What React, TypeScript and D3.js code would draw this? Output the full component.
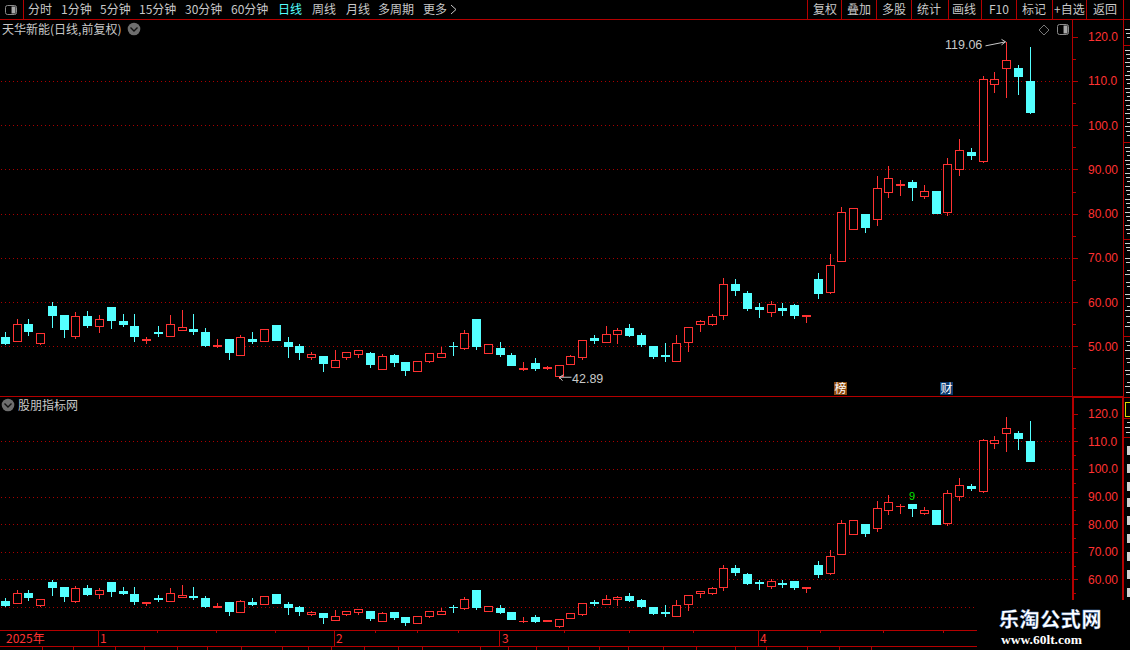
import React, { useEffect } from "react";
import * as d3 from "d3";

const opens = [52.12,51.29,55.08,50.83,59.17,57.12,52.35,56.89,54.62,58.94,55.76,54.62,51.44,53.26,52.35,53.71,53.94,53.26,50.08,51.67,48.03,51.67,51.21,54.85,50.98,50.08,47.58,47.80,45.30,47.58,48.26,48.48,44.85,48.03,46.44,44.39,46.67,47.58,50.15,49.62,56.21,48.48,49.62,48.03,44.85,46.21,45.08,43.26,45.98,47.58,51.97,50.98,52.80,54.16,52.57,50.08,48.03,46.67,50.98,55.06,55.06,57.11,64.13,62.09,58.92,57.79,58.69,59.37,56.95,65.27,62.32,69.35,76.61,79.92,78.71,84.97,86.55,87.15,84.06,85.12,80.29,90.09,93.93,91.90,109.32,112.95,113.03,110.08];
const closes = [50.76,55.08,53.48,53.03,57.12,53.94,56.89,54.85,56.21,55.98,55.08,52.35,51.67,53.03,55.08,54.39,53.48,50.30,50.30,48.71,52.12,51.21,53.94,51.44,50.08,48.71,48.26,46.21,46.89,48.71,49.17,45.98,47.80,46.44,44.62,46.67,48.48,48.48,50.00,53.03,50.08,50.53,48.26,45.76,45.08,45.08,45.30,45.76,47.80,51.44,51.44,52.80,53.70,52.57,50.53,47.81,47.88,50.76,54.38,55.74,56.88,64.13,62.77,58.69,58.54,59.60,58.31,57.11,57.11,62.09,68.44,80.46,81.37,76.98,85.72,87.98,86.70,86.02,85.04,80.14,91.15,94.31,93.26,110.45,110.45,114.77,111.21,103.03];
const highs = [53.48,56.44,56.44,53.03,60.30,57.12,58.03,58.26,57.35,59.17,57.58,57.58,52.35,54.85,57.35,58.48,57.58,54.39,51.89,51.82,52.80,53.48,54.17,55.08,52.35,50.76,48.94,47.80,49.39,48.71,49.17,48.94,48.48,48.48,46.44,46.89,48.48,50.00,51.21,53.94,56.21,50.76,51.21,48.71,46.67,47.58,45.76,45.76,48.26,51.67,52.80,54.84,54.38,55.29,53.25,50.30,50.98,52.80,54.38,56.20,57.56,65.72,65.49,62.77,60.05,60.51,60.05,59.83,57.33,66.86,71.16,81.82,81.37,80.14,88.73,90.99,87.83,87.83,86.70,85.12,92.80,97.10,95.06,111.36,112.27,119.06,113.94,117.80];
const lows = [50.53,51.29,52.58,50.53,54.39,52.12,51.89,54.39,53.26,54.17,54.62,51.21,50.76,52.35,52.35,53.71,52.80,50.08,49.85,47.12,48.03,50.76,51.21,51.44,47.58,47.12,47.12,44.39,45.30,47.12,47.58,45.30,44.85,45.53,43.48,44.39,46.44,47.58,48.03,49.39,49.39,48.48,47.80,45.76,44.62,44.62,44.85,42.89,45.98,47.12,50.76,50.98,50.76,52.34,50.08,47.35,46.67,46.67,48.94,53.48,54.84,56.20,61.64,58.24,56.65,56.88,57.11,56.42,55.52,60.96,62.09,69.35,76.61,75.85,77.43,83.76,84.21,83.08,83.53,80.14,79.69,88.73,92.35,91.65,107.58,106.44,107.12,102.80];

const indices = opens.map((_, i) => i);
const topMajor = [50, 60, 70, 80, 90, 100, 110, 120];
const topMinor = [45, 55, 65, 75, 85, 95, 105, 115];
const topGrid = [50, 60, 70, 80, 90, 100, 110];
const botMajor = [60, 70, 80, 90, 100, 110, 120];
const botMinor = [55, 65, 75, 85, 95, 105, 115];
const botGrid = [50, 60, 70, 80, 90, 100, 110];

const toolbarLeft: [string, number, boolean][] = [["分时",28,false],["1分钟",61,false],["5分钟",100,false],["15分钟",139,false],["30分钟",185,false],["60分钟",231,false],["日线",278,true],["周线",312,false],["月线",346,false],["多周期",378,false],["更多",423,false]];
const toolbarRight: [string, number][] = [["复权",813],["叠加",847],["多股",882],["统计",917],["画线",952],["F10",989],["标记",1022],["+自选",1054],["返回",1093]];
const toolbarSeps = [807, 841, 876, 911, 948, 981, 1016, 1052, 1086, 1123];
const monthLabels: [string, number][] = [["2025年",6],["1",100],["2",336],["3",502],["4",760]];
const monthLines = [98, 334, 499, 758];
const dateMinorTicks = [157, 216, 275, 375, 417, 458, 564, 629, 693, 820, 883, 943];
const tabSeps = [42, 73, 115, 144, 177, 207, 241, 282, 308, 331, 364, 398, 422, 480, 508, 536, 568, 599, 628, 663, 696, 735, 766, 807, 839, 871];
const sideLines = [45, 142, 239, 336, 397, 418, 437];
const sideDashes = [29,33,37,50,54,58,62,66,71,75,79,83,88,92,96,100,105,109,113,118,122,126,131,135,147,151,155,160,164,168,173,177,181,186,190,194,199,203,207,212,216,220,225,229,233,243,247,250,258,262,270,274,282,286,294,298,306,310,316,322,326,341,345,350,358,362,370,374,382,386,392,422,427,432];
const sideBlocks = [446,464,482,498,516,534,552,570,588];

const RED = "#ff3232";
const CYAN = "#54ffff";
const LINE = "#b40000";
const GRID = "#aa0000";
const TEXT = "#c8c8c8";
const CJK = "'Noto Sans CJK SC', 'Noto Sans', sans-serif";
const LAT = "'Liberation Sans', Arial, sans-serif";

const xS = d3.scaleLinear().domain([0, 87]).range([5.3, 1030.3]);
const yTop = d3.scaleLinear().domain([50, 120]).range([346.3, 36.7]);
const yBot = d3.scaleLinear().domain([60, 120]).range([579.4, 413.7]);
const fmt = (v: number) => v.toPrecision(4);
const px = (v: number) => Math.round(v) + 0.5;

function Candles({ y, clip }: { y: d3.ScaleLinear<number, number>; clip: string }) {
  return (
    <g clipPath={`url(#${clip})`} shapeRendering="crispEdges">
      {indices.map((i) => {
        const up = closes[i] >= opens[i];
        const c = Math.floor(xS(i)) + 0.5;
        const color = up ? RED : CYAN;
        const t = px(y(Math.max(opens[i], closes[i])));
        const b = px(y(Math.min(opens[i], closes[i])));
        const hi = px(y(highs[i]));
        const lo = px(y(lows[i]));
        const h = b - t;
        return (
          <g key={i}>
            {hi < t && <line x1={c} x2={c} y1={hi} y2={t} stroke={color} />}
            {lo > b && <line x1={c} x2={c} y1={b} y2={lo} stroke={color} />}
            {h === 0 ? (
              <line x1={c - 4.5} x2={c + 4.5} y1={t} y2={t} stroke={color} />
            ) : up ? (
              <rect x={c - 4} y={t} width={8} height={h} fill="#000" stroke={color} />
            ) : (
              <rect x={c - 4.5} y={t - 0.5} width={9} height={h + 1} fill={color} />
            )}
          </g>
        );
      })}
    </g>
  );
}

function Axis({ y, major, minor }: { y: d3.ScaleLinear<number, number>; major: number[]; minor: number[] }) {
  return (
    <g>
      <g shapeRendering="crispEdges">
        {major.map((v) => <line key={v} x1={1073} x2={1078} y1={px(y(v))} y2={px(y(v))} stroke={LINE} />)}
        {minor.map((v) => <line key={v} x1={1073} x2={1076} y1={px(y(v))} y2={px(y(v))} stroke={LINE} />)}
      </g>
      {major.map((v) => (
        <text key={v} x={1088} y={y(v) + 4.5} fontFamily={LAT} fontSize={12} fill={RED}>{fmt(v)}</text>
      ))}
    </g>
  );
}

function Grid({ y, ticks, x2 }: { y: d3.ScaleLinear<number, number>; ticks: number[]; x2: number }) {
  return (
    <g shapeRendering="crispEdges">
      {ticks.map((v) => (
        <line key={v} x1={1} x2={x2} y1={px(y(v))} y2={px(y(v))} stroke={GRID} strokeDasharray="1 3" />
      ))}
    </g>
  );
}

function Chevron({ cx, cy }: { cx: number; cy: number }) {
  return (
    <g>
      <circle cx={cx} cy={cy} r={6.3} fill="#6e6e6e" />
      <path d={`M${cx - 3.5},${cy - 1.5} L${cx},${cy + 2} L${cx + 3.5},${cy - 1.5}`} fill="none" stroke="#111" strokeWidth={1.4} />
    </g>
  );
}

function PanelIcon({ x, y, w, h }: { x: number; y: number; w: number; h: number }) {
  return (
    <g>
      <rect x={x} y={y} width={w} height={h} rx={2} fill="#000" stroke="#8a8a8a" />
      <rect x={x + w * 0.55} y={y + 1} width={w * 0.45 - 1} height={h - 2} fill="#a8a8a8" />
    </g>
  );
}

export default function App() {
  useEffect(() => {
    document.body.style.margin = "0";
    document.body.style.background = "#000";
  }, []);

  const hiX = Math.floor(xS(85)) + 0.5;
  const hiY = yTop(119.06);
  const loX = Math.floor(xS(47)) + 0.5;
  const loY = yTop(42.89);

  return (
    <svg width={1130} height={650} viewBox="0 0 1130 650" style={{ position: "absolute", left: 0, top: 0, display: "block", background: "#000" }}>
      <defs>
        <clipPath id="clipTop"><rect x={0} y={20} width={1072} height={376} /></clipPath>
        <clipPath id="clipBot"><rect x={0} y={398} width={1072} height={232} /></clipPath>
      </defs>
      <rect x={0} y={0} width={1130} height={650} fill="#000" />

      {/* toolbar */}
      <PanelIcon x={5.5} y={5.5} w={11} h={9} />
      {toolbarLeft.map(([s, x, on]) => (
        <text key={s} x={x} y={14} fontFamily={CJK} fontSize={12} fill={on ? CYAN : TEXT}>{s}</text>
      ))}
      <path d="M451,5 L456,9.5 L451,14" fill="none" stroke={TEXT} strokeWidth={1} />
      {toolbarRight.map(([s, x]) => (
        <text key={s} x={x} y={14} fontFamily={CJK} fontSize={12} fill={TEXT}>{s}</text>
      ))}
      <g shapeRendering="crispEdges">
        <line x1={23.5} x2={23.5} y1={0} y2={19} stroke={LINE} />
        {toolbarSeps.map((x) => <line key={x} x1={x + 0.5} x2={x + 0.5} y1={0} y2={19} stroke={LINE} />)}
        <line x1={0} x2={1130} y1={19.5} y2={19.5} stroke={LINE} />
      </g>

      {/* top panel */}
      <text x={2} y={33.5} fontFamily={CJK} fontSize={12} fill={TEXT}>天华新能(日线,前复权)</text>
      <Chevron cx={134} cy={29} />
      <path d="M1044,25 L1049,30 L1044,35 L1039,30 Z" fill="none" stroke="#777" />
      <PanelIcon x={1057.5} y={24.5} w={11} h={10} />
      <Grid y={yTop} ticks={topGrid} x2={1072} />
      <Candles y={yTop} clip="clipTop" />
      <text x={945} y={49} fontFamily={LAT} fontSize={12.5} fill={TEXT}>{highs[85].toFixed(2)}</text>
      <path d={`M${hiX - 21},${hiY + 5} L${hiX - 1},${hiY + 1} M${hiX - 5},${hiY - 1.5} L${hiX - 1},${hiY + 1} L${hiX - 5},${hiY + 4}`} fill="none" stroke={TEXT} strokeWidth={1} />
      <text x={572} y={383} fontFamily={LAT} fontSize={12.5} fill={TEXT}>{lows[47].toFixed(2)}</text>
      <path d={`M${loX + 12},${loY - 0.5} L${loX},${loY - 0.5} M${loX + 4},${loY - 3} L${loX},${loY - 0.5} L${loX + 3},${loY + 3}`} fill="none" stroke={TEXT} strokeWidth={1} />
      <rect x={834} y={382} width={13} height={13} fill="#8b4a10" />
      <text x={834.5} y={393} fontFamily={CJK} fontSize={12} fill="#fff">榜</text>
      <rect x={940} y={382} width={13} height={13} fill="#0a3a6e" />
      <text x={940.5} y={393} fontFamily={CJK} fontSize={12} fill="#fff">财</text>
      <Axis y={yTop} major={topMajor} minor={topMinor} />

      {/* bottom panel */}
      <Chevron cx={8} cy={405} />
      <text x={18} y={410} fontFamily={CJK} fontSize={12} fill={TEXT}>股朋指标网</text>
      <Grid y={yBot} ticks={botGrid} x2={1072} />
      <Candles y={yBot} clip="clipBot" />
      <text x={909} y={yBot(highs[77]) - 3} fontFamily={LAT} fontSize={11} fill="#00e000">9</text>
      <Axis y={yBot} major={botMajor} minor={botMinor} />

      {/* frame lines */}
      <g shapeRendering="crispEdges">
        <line x1={0} x2={1123} y1={396.5} y2={396.5} stroke={LINE} />
        <rect x={1072} y={396} width={52} height={2} fill={LINE} />
        <rect x={1072} y={20} width={1} height={376} fill={LINE} />
        <rect x={1072} y={398} width={2} height={202} fill={LINE} />
        <rect x={1123} y={0} width={1} height={398} fill={LINE} />
        <rect x={1122} y={398} width={2} height={202} fill={LINE} />
      </g>

      {/* clipped sidebar glyph fragments */}
      <g shapeRendering="crispEdges">
        {sideDashes.map((y, i) => (
          <rect key={y} x={1125 + (i % 3)} y={y} width={5 - (i % 3)} height={1} fill="#cfcfcf" />
        ))}
        {sideBlocks.map((y) => <rect key={y} x={1127} y={y} width={3} height={9} fill="#d0d0d0" />)}
        {sideLines.map((y) => <line key={y} x1={1124} x2={1130} y1={y + 0.5} y2={y + 0.5} stroke={LINE} />)}
        <rect x={1125.5} y={402.5} width={6} height={14} fill="none" stroke="#d8d800" />
      </g>

      {/* date axis */}
      <rect x={0} y={630} width={977} height={20} fill="#000" />
      <g shapeRendering="crispEdges">
        <line x1={0} x2={977} y1={630.5} y2={630.5} stroke={LINE} />
        <line x1={0} x2={977} y1={646.5} y2={646.5} stroke={LINE} />
        {monthLines.map((x) => <line key={x} x1={x + 0.5} x2={x + 0.5} y1={630} y2={646} stroke={LINE} />)}
        {dateMinorTicks.map((x) => <line key={x} x1={x + 0.5} x2={x + 0.5} y1={630} y2={633} stroke={LINE} />)}
        {tabSeps.map((x) => <line key={x} x1={x + 0.5} x2={x + 0.5} y1={646} y2={650} stroke={LINE} />)}
      </g>
      {monthLabels.map(([s, x]) => (
        <text key={s} x={x} y={643} fontFamily={CJK} fontSize={12} fill={RED}>{s}</text>
      ))}

      {/* watermark */}
      <rect x={977} y={600} width={153} height={50} fill="#000" />
      <text x={999} y={627} fontFamily="'Noto Sans CJK SC', sans-serif" fontWeight={700} fontSize={20} letterSpacing={0.6} fill="#fff" stroke="#5a8ad0" strokeWidth={0.3}>乐淘公式网</text>
      <text x={1001} y={644} fontFamily="'Liberation Serif', serif" fontWeight={700} fontSize={13.5} fill="#fff">www.60lt.com</text>
    </svg>
  );
}
